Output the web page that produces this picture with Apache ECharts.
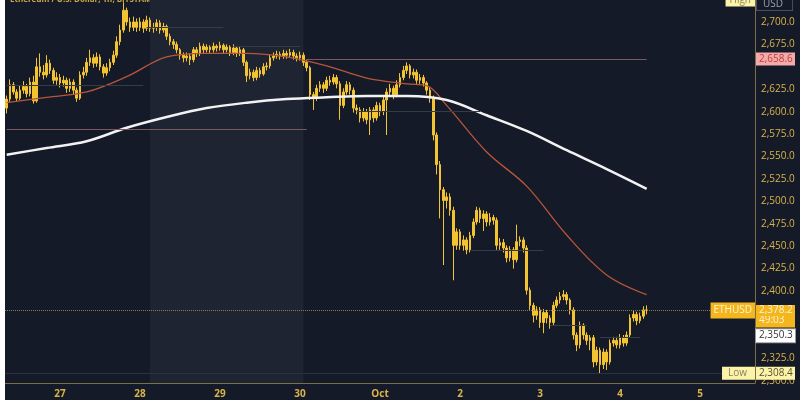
<!DOCTYPE html>
<html><head><meta charset="utf-8">
<script src="https://cdn.jsdelivr.net/npm/echarts@6/dist/echarts.min.js"></script>
<style>html,body{margin:0;padding:0;background:#fff;width:800px;height:400px;overflow:hidden}
#c{position:absolute;left:5px;top:0;width:795px;height:400px}</style></head>
<body><div id="c"></div>
<script>
const dayLabels = ['27','28','29','30','Oct','2','3','4','5'];
// [open, close, low, high], hourly
const ohlc = [
[2604,2614,2598,2618],[2614,2630,2611,2636],[2630,2622,2619,2633],[2622,2615,2611,2625],[2615,2624,2613,2629],
[2624,2628,2620,2634],[2628,2620,2616,2631],[2620,2633,2617,2638],[2633,2612,2609,2640],[2612,2650,2610,2660],
[2650,2644,2639,2665],[2644,2641,2636,2652],[2641,2654,2638,2663],[2654,2646,2642,2658],[2646,2635,2631,2649],
[2635,2638,2630,2644],[2638,2632,2627,2642],[2632,2635,2628,2640],[2635,2626,2621,2638],[2626,2633,2622,2637],
[2633,2624,2619,2636],[2624,2615,2611,2627],[2615,2641,2613,2645],[2641,2644,2637,2650],[2644,2655,2640,2660],
[2655,2660,2651,2669],[2660,2654,2649,2664],[2654,2661,2650,2666],[2661,2650,2646,2664],[2650,2643,2638,2653],
[2643,2649,2640,2654],[2649,2655,2645,2659],[2655,2663,2652,2668],[2663,2678,2660,2684],[2678,2691,2674,2697],
[2691,2713,2688,2722],[2713,2700,2696,2716],[2700,2694,2689,2705],[2694,2700,2690,2706],[2700,2694,2689,2704],
[2694,2700,2690,2705],[2700,2693,2688,2703],[2693,2702,2690,2707],[2702,2693,2689,2705],[2693,2694,2688,2699],
[2694,2699,2690,2703],[2699,2691,2687,2702],[2691,2695,2688,2699],[2695,2684,2680,2697],[2684,2678,2674,2687],
[2678,2675,2670,2681],[2675,2669,2665,2678],[2669,2663,2658,2671],[2663,2660,2655,2666],[2660,2662,2656,2666],
[2662,2658,2652,2665],[2658,2669,2655,2672],[2669,2665,2661,2672],[2665,2673,2662,2677],[2673,2669,2665,2676],
[2669,2672,2666,2675],[2672,2669,2665,2674],[2669,2673,2666,2677],[2673,2671,2667,2675],[2671,2674,2668,2678],
[2674,2669,2665,2676],[2669,2672,2666,2675],[2672,2666,2662,2674],[2666,2671,2663,2675],[2671,2665,2661,2673],
[2665,2669,2662,2673],[2669,2655,2651,2671],[2655,2640,2633,2657],[2640,2644,2636,2648],[2644,2638,2634,2647],
[2638,2646,2635,2650],[2646,2642,2638,2649],[2642,2650,2640,2654],[2650,2651,2646,2655],[2651,2660,2648,2664],
[2660,2662,2657,2666],[2662,2664,2659,2668],[2664,2662,2658,2667],[2662,2665,2659,2669],[2665,2663,2659,2668],
[2663,2666,2660,2670],[2666,2662,2658,2669],[2662,2660,2656,2665],[2660,2663,2657,2667],[2663,2655,2651,2666],
[2655,2649,2645,2658],[2649,2619,2613,2651],[2619,2615,2602,2622],[2615,2626,2612,2630],[2626,2630,2622,2634],
[2630,2626,2621,2633],[2626,2635,2623,2639],[2635,2633,2629,2640],[2633,2638,2630,2642],[2638,2631,2626,2641],
[2631,2607,2591,2634],[2607,2622,2604,2626],[2622,2630,2619,2634],[2630,2624,2619,2633],[2624,2604,2599,2627],
[2604,2602,2597,2608],[2602,2593,2588,2605],[2593,2600,2589,2604],[2600,2591,2586,2603],[2591,2602,2574,2605],
[2602,2593,2588,2605],[2593,2607,2590,2611],[2607,2600,2595,2610],[2600,2613,2596,2617],[2613,2622,2574,2626],
[2622,2626,2618,2631],[2626,2619,2614,2629],[2619,2630,2616,2635],[2630,2638,2627,2643],[2638,2646,2635,2651],
[2646,2651,2642,2655],[2651,2641,2637,2653],[2641,2644,2637,2648],[2644,2635,2631,2647],[2635,2638,2631,2642],
[2638,2632,2628,2641],[2632,2624,2619,2634],[2624,2615,2610,2627],[2615,2574,2568,2618],[2574,2541,2530,2577],
[2541,2513,2481,2545],[2513,2501,2429,2516],[2501,2505,2492,2510],[2505,2490,2484,2509],[2490,2451,2412,2494],
[2451,2466,2446,2470],[2466,2451,2446,2469],[2451,2457,2445,2462],[2457,2446,2441,2460],[2446,2462,2443,2466],
[2462,2477,2459,2481],[2477,2490,2474,2494],[2490,2481,2476,2493],[2481,2486,2467,2490],[2486,2477,2472,2489],
[2477,2482,2473,2487],[2482,2479,2474,2485],[2479,2451,2446,2482],[2451,2454,2446,2459],[2454,2448,2443,2458],
[2448,2437,2432,2451],[2437,2446,2433,2450],[2446,2435,2425,2449],[2435,2455,2432,2474],[2455,2457,2450,2461],
[2457,2448,2443,2460],[2448,2401,2396,2451],[2401,2384,2379,2404],[2384,2373,2365,2387],[2373,2379,2368,2383],
[2379,2365,2359,2382],[2365,2376,2353,2380],[2376,2370,2364,2379],[2370,2365,2358,2373],[2365,2384,2362,2388],
[2384,2390,2381,2394],[2390,2394,2386,2399],[2394,2396,2390,2401],[2396,2390,2385,2399],[2390,2379,2374,2392],
[2379,2351,2346,2382],[2351,2340,2333,2354],[2340,2362,2336,2366],[2362,2351,2346,2364],[2351,2345,2340,2354],
[2345,2348,2334,2351],[2348,2321,2315,2351],[2321,2334,2317,2338],[2334,2318,2308.4,2337],[2318,2332,2313,2336],
[2332,2321,2312,2335],[2321,2342,2318,2346],[2342,2345,2338,2349],[2345,2340,2336,2349],[2340,2348,2336,2352],
[2348,2342,2338,2351],[2342,2351,2339,2355],[2351,2370,2348,2374],[2370,2374,2366,2378],[2374,2367,2362,2377],
[2367,2372,2364,2376],[2372,2379,2369,2383],[2379,2378.2,2374,2384]
];
// moving averages: [candle index, value]
const ma50 = [[0,2610],[12,2616],[24,2622],[36,2639],[48,2661],[60,2665],[72,2665],[84,2661],[96,2651],[108,2637.5],[120,2631],[126,2629],[132,2607],[144,2555],[156,2517],[168,2462.5],[180,2418],[192,2396]];
const ma200 = [[0,2552],[12,2559.5],[24,2567],[36,2582],[48,2594],[60,2604],[72,2610],[84,2614],[96,2616],[108,2617.5],[120,2617.5],[132,2613],[144,2596],[156,2578.5],[168,2557],[180,2536],[192,2514]];
const yTicks = [2300,2325,2400,2425,2450,2475,2500,2525,2550,2575,2600,2625,2675,2700];
const lastPrice = 2378.2, prevClose = 2350.3, lowPrice = 2308.4, highMark = 2724.5, levelHigh = 2658.6, levelPrev = 2580;
// faint session levels: [fromIndex, toIndex, value]
const faintLevels = [[42,65,2694],[68,88,2673],[0,41,2629],[105,142,2600],[139,161,2446],[163,174,2362],[178,190,2349]];

const nCats = 225;
const startMs = Date.UTC(2024,8,26,8);
const cats = [];
for (let i = 0; i < nCats; i++) {
  const d = new Date(startMs + i*3600000);
  cats.push((d.getUTCMonth()+1)+'-'+d.getUTCDate()+' '+d.getUTCHours()+':00');
}
const fmt = v => v.toLocaleString('en-US',{minimumFractionDigits:1, maximumFractionDigits:1});
const gold = '#d9b44a', axisCol = '#7d6e45', candle = '#f4c430';
const hidden = {color:'rgba(0,0,0,0)', width:1, type:'solid'};

const lines = [];
faintLevels.forEach(f => lines.push([{coord:[cats[f[0]], f[2]], lineStyle:{color:'#363b4a', width:1, type:'solid'}}, {coord:[cats[f[1]], f[2]]}]));
lines.push([{coord:[cats[90], levelHigh], lineStyle:{color:'#7a5a5e', width:1, type:'solid'}}, {coord:[cats[192], levelHigh]}]);
lines.push([{coord:[cats[0], levelPrev], lineStyle:{color:'#7a5a5e', width:1, type:'solid'}}, {coord:[cats[90], levelPrev]}]);
const box = (bg, col, extra) => Object.assign({show:true, position:'end', distance:1, backgroundColor:bg, color:col, fontSize:10, lineHeight:11, fontFamily:'Open Sans', padding:[1,3,1,3], width:33}, extra||{});
lines.push({yAxis: lowPrice, lineStyle:{color:'#2c3140', width:1, type:'solid'}, label: box('#fbf3a8','#5a5030',{formatter: fmt(lowPrice)})});
lines.push({yAxis: lowPrice, lineStyle:hidden, label: box('#fbf3a8','#8a8060',{position:'insideEnd', distance:0, formatter:'Low', width:null, padding:[1,8,1,6]})});
lines.push({yAxis: highMark, lineStyle:hidden, label: box('#fbf3a8','#8a8060',{position:'insideEnd', distance:0, formatter:'High', width:null, padding:[1,4,1,4]})});
lines.push({yAxis: levelHigh, lineStyle:hidden, label: box('#f4aaaa','#b8403a',{formatter: fmt(levelHigh)})});
lines.push({yAxis: prevClose, lineStyle:hidden, label: box('#ffffff','#333',{formatter: fmt(prevClose), borderColor:'#999', borderWidth:1})});
lines.push({yAxis: lastPrice, lineStyle:hidden, label: box('#f3b61f','#fff4cc',{formatter:'49:03', verticalAlign:'top', lineHeight:10, padding:[5,3,2,3]})});
lines.push({yAxis: lastPrice, lineStyle:{color:'#8a7a55', width:1, type:'dotted'}, label: box('#f3b61f','#fff4cc',{formatter: fmt(lastPrice), lineHeight:10, padding:[1,3,0,3]})});
lines.push({yAxis: lastPrice, lineStyle:hidden, label: box('#f3b61f','#fff4cc',{position:'insideEnd', distance:0, formatter:'ETHUSD', width:null, padding:[2,3,3,3]})});

const chart = echarts.init(document.getElementById('c'), null, {renderer:'canvas'});
chart.setOption({
  animation:false,
  backgroundColor:'#151a28',
  textStyle:{fontFamily:'Open Sans'},
  grid:{left:0, right:45, top:0, bottom:17, containLabel:false},
  graphic:[
    {type:'text', left:5, top:-4, style:{text:'Ethereum / U.S. Dollar, 1h, BITSTAMP', fill:'#c9a845', font:'bold 8px Open Sans'}},
    {type:'text', left:751, top:-3, z:100, style:{text:'USD', fill:'#9aa0aa', font:'10px Open Sans', backgroundColor:'#151a28', borderColor:'#4a4f5c', borderWidth:1, padding:[1,9,1,6]}}
  ],
  xAxis:{type:'category', data:cats, boundaryGap:true,
    axisLine:{show:true, lineStyle:{color:axisCol, width:1}}, axisTick:{show:false}, splitLine:{show:false},
    axisLabel:{color:gold, fontSize:10, fontWeight:'bold', margin:6,
      interval:(i)=> i % 24 === 16,
      formatter:(v,i)=> dayLabels[(i-16)/24]}},
  yAxis:{type:'value', position:'right', min:2297.5, max:2724.5, scale:true,
    axisLine:{show:true, lineStyle:{color:axisCol, width:1}}, axisTick:{show:false}, splitLine:{show:false},
    axisLabel:{color:gold, fontSize:10, margin:6, customValues:yTicks, formatter:fmt}},
  series:[
    {type:'candlestick', data:ohlc, barWidth:'70%',
      itemStyle:{color:candle, color0:candle, borderColor:candle, borderColor0:candle, borderWidth:1},
      markArea:{silent:true, itemStyle:{color:'#1f2433'}, data:[[{xAxis:cats[43]},{xAxis:cats[89]}]]},
      markLine:{silent:true, symbol:['none','none'], animation:false, label:{show:false}, data:lines}
    },
    {type:'line', data:ma50, smooth:0.35, showSymbol:false, lineStyle:{color:'#b8553a', width:1.3}, z:3},
    {type:'line', data:ma200, smooth:0.35, showSymbol:false, lineStyle:{color:'#f2f2f2', width:2.5}, z:3}
  ]
});
</script></body></html>
